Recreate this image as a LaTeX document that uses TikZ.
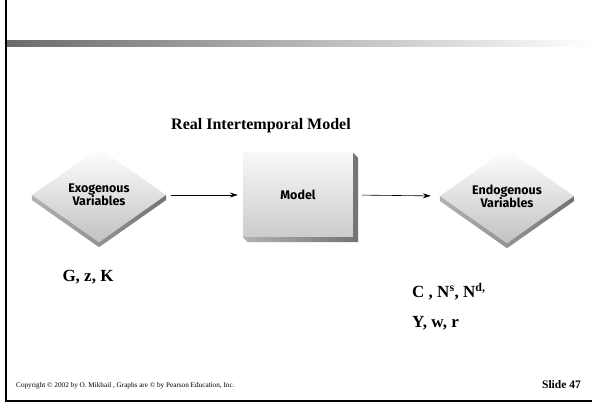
\documentclass[tikz,border=0pt]{standalone}
\usepackage{fontspec}
\setmainfont{Liberation Serif}
\newfontfamily\shapefont{Fira Sans}
\usetikzlibrary{shapes.geometric,arrows.meta}

\tikzset{
  varshape/.style={diamond, aspect=1.43, minimum width=134pt, minimum height=94pt,
    inner sep=0pt, top color=white, bottom color=black!24, align=center,
    font=\shapefont\bfseries\fontsize{12.5}{13}\selectfont},
  modelbox/.style={rectangle, minimum width=110pt, minimum height=84pt,
    top color=black!3, bottom color=black!20,
    font=\shapefont\bfseries\fontsize{12.5}{13}\selectfont},
  edge3d/.style={left color=black!30, right color=black!55},
  flow/.style={-{Stealth[length=8pt,width=5pt]}, line width=0.6pt},
  bigtext/.style={font=\bfseries\fontsize{17}{20}\selectfont, inner sep=0pt}
}

\begin{document}
\begin{tikzpicture}[x=1pt,y=-1pt]
  \useasboundingbox (0,0) rectangle (592,403);

  % slide frame
  \draw[line width=2pt] (6,0) -- (6,401) -- (592,401);
  \shade[left color=black!58, right color=white] (7,41) rectangle (592,47);

  \node[font=\bfseries\fontsize{16}{19}\selectfont] (title) at (261,126) {Real Intertemporal Model};

  % the three shapes
  \node[varshape] (exo) at (99,195) {Exogenous\\Variables};
  \node[modelbox] (model) at (298,195) {Model};
  \node[varshape] (endo) at (507,196) {Endogenous\\Variables};

  \shade[edge3d] (exo.west) -- (exo.south) -- (exo.east) -- ([yshift=-5pt]exo.east) -- ([yshift=-5pt]exo.south) -- ([yshift=-5pt]exo.west) -- cycle;
  \shade[edge3d] (endo.west) -- (endo.south) -- (endo.east) -- ([yshift=-5pt]endo.east) -- ([yshift=-5pt]endo.south) -- ([yshift=-5pt]endo.west) -- cycle;
  \shade[edge3d] (model.north east) -- ([xshift=5pt,yshift=-5pt]model.north east) -- ([xshift=5pt,yshift=-5pt]model.south east) -- ([xshift=5pt,yshift=-5pt]model.south west) -- (model.south west) -- (model.south east) -- cycle;

  \draw[flow, shorten <=5pt, shorten >=5pt] (exo.east) to (model.west);
  \draw[flow, shorten <=9pt, shorten >=9pt] (model.east) to (endo.west);

  % variable lists
  \node[bigtext] (exolist) at (88,277) {G, z, K};
  \node[bigtext, anchor=base west] (endolist) at (412,298) {C , N\textsuperscript{s}, N\textsuperscript{d,}};
  \node[bigtext, anchor=base west] (endolist2) at (412,328) {Y, w, r};

  % footer
  \node[font=\fontsize{7.2}{8}\selectfont, anchor=west, inner sep=0pt] (copy) at (16,386) {Copyright \textcopyright{} 2002 by O. Mikhail , Graphs are \textcopyright{} by Pearson Education, Inc.};
  \node[font=\bfseries\fontsize{11.5}{13}\selectfont, anchor=east, inner sep=0pt] (slide) at (581,385) {Slide 47};
\end{tikzpicture}
\end{document}
